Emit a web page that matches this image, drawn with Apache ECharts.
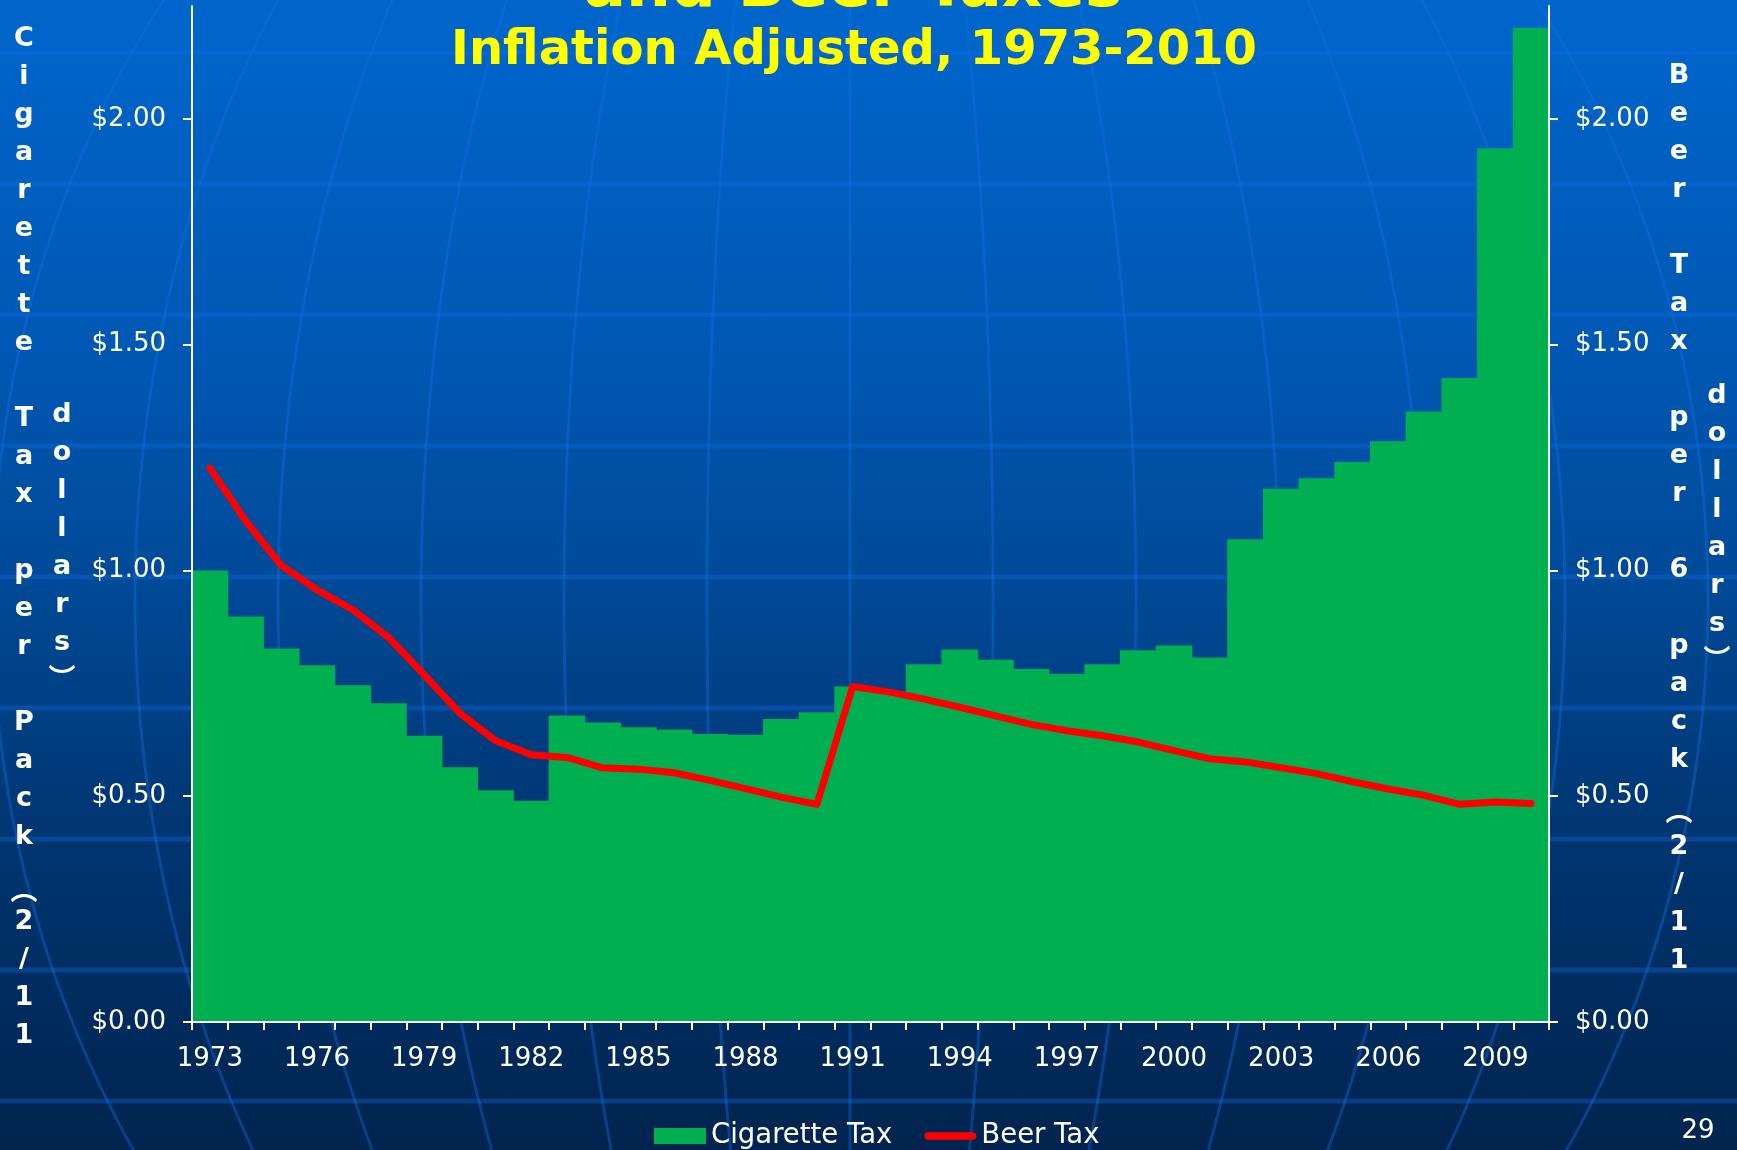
<!DOCTYPE html>
<html>
<head>
<meta charset="utf-8">
<script src="https://cdn.jsdelivr.net/npm/echarts@6/dist/echarts.min.js"></script>
<style>
html,body{margin:0;padding:0;width:1737px;height:1150px;overflow:hidden;
background:linear-gradient(to bottom,#0066cc 0%,#0058b4 30%,#004a98 50%,#003672 72%,#00244e 100%);}
#chart{width:1737px;height:1150px;}
</style>
</head>
<body>
<div id="chart"></div>
<script>
const years = ['1973','1974','1975','1976','1977','1978','1979','1980','1981','1982',
  '1983','1984','1985','1986','1987','1988','1989','1990','1991','1992',
  '1993','1994','1995','1996','1997','1998','1999','2000','2001','2002',
  '2003','2004','2005','2006','2007','2008','2009','2010'];
const cigaretteTax = [1.00,0.898,0.827,0.790,0.746,0.706,0.634,0.564,0.513,0.490,
  0.679,0.663,0.653,0.648,0.638,0.636,0.671,0.686,0.743,0.732,
  0.792,0.825,0.802,0.782,0.771,0.792,0.823,0.834,0.807,1.069,
  1.181,1.204,1.240,1.286,1.352,1.426,1.935,2.202];
const beerTax = [1.227,1.11,1.011,0.957,0.913,0.852,0.769,0.684,0.623,0.592,
  0.586,0.563,0.560,0.552,0.535,0.517,0.498,0.482,0.743,0.731,
  0.715,0.697,0.678,0.659,0.645,0.634,0.620,0.601,0.583,0.576,
  0.563,0.550,0.532,0.516,0.502,0.482,0.487,0.484];
const yTicks = [0, 0.5, 1.0, 1.5, 2.0];
const titleLine1 = 'and Beer Taxes';
const titleLine2 = 'Inflation Adjusted, 1973-2010';
// axis titles as stacked (vertical) text: Cigarette Tax per Pack (2/11 dollars)
const leftTitleA = 'Cigarette Tax per Pack';
const leftTitleParen = '︵';
const leftTitleDate = '2/11';
const leftTitleB = 'dollars︶';
const rightTitleA = 'Beer Tax per 6 pack';
const rightTitleParen = '︵';
const rightTitleDate = '2/11';
const rightTitleB = 'dollars︶';
const seriesNames = ['Cigarette Tax', 'Beer Tax'];

const FONT = '"DejaVu Sans", Verdana, sans-serif';
const stack = s => Array.from(s).join('\n');

// background decoration (slide template): latitude lines and globe meridians
const deco = [];
for (let k = 0; k < 9; k++) {
  const y = 53 + 131 * k;
  deco.push({type:'line', z:-100, silent:true,
    shape:{x1:0,y1:y,x2:1737,y2:y},
    style:{stroke:'rgba(20,110,235,0.32)', lineWidth:5}});
}
for (let i = -6; i <= 6; i++) {
  const d = 143 * i;
  const pts = [];
  for (let y = -60; y <= 1210; y += 20) {
    const t = (y - 600) / 1000;
    pts.push([850 + d * Math.sqrt(Math.max(0, 1 - t * t)), y]);
  }
  deco.push({type:'polyline', z:-100, silent:true,
    shape:{points:pts},
    style:{stroke:'rgba(20,110,225,0.38)', lineWidth:3, fill:null}});
}

const titleFont = 'bold 27px "DejaVu Sans", Verdana, "Noto Sans CJK SC", sans-serif';
const vText = (str, x, y, va) => ({type:'text', z:10, x:x, y:y, style:{text:stack(str), fill:'#ffffff',
    font:titleFont, lineHeight:38, textAlign:'center', textVerticalAlign:va || 'top'}});
const texts = [
  {type:'text', z:10, x:853, y:-10, style:{text:titleLine1, fill:'#ffff00',
    font:'bold 63px ' + FONT, textAlign:'center', textVerticalAlign:'middle'}},
  {type:'text', z:10, x:854, y:52, style:{text:titleLine2, fill:'#ffff00',
    font:'bold 48px ' + FONT, textAlign:'center', textVerticalAlign:'middle'}},
  vText(leftTitleA, 24, 20),
  vText(leftTitleParen, 24, 893, 'middle'),
  vText(leftTitleDate, 24, 903),
  vText(leftTitleB, 62, 396),
  vText(rightTitleA, 1679, 57),
  vText(rightTitleParen, 1679, 814, 'middle'),
  vText(rightTitleDate, 1679, 828),
  vText(rightTitleB, 1717, 377),
  {type:'text', z:10, x:1698, y:1131, style:{text:'29', fill:'#ffffff',
    font:'26px ' + FONT, textAlign:'center', textVerticalAlign:'middle'}}
];

const chart = echarts.init(document.getElementById('chart'), null, {renderer:'canvas'});
const yAxisCommon = {
  type:'value', min:0, max:2.25, interval:0.5, z:5,
  axisLine:{show:true, lineStyle:{color:'#ffffff', width:2}},
  axisTick:{show:true, length:9, lineStyle:{color:'#ffffff', width:2}, customValues:yTicks},
  axisLabel:{color:'#ffffff', fontSize:26, fontFamily:FONT, margin:26, customValues:yTicks,
    formatter: v => '$' + Number(v).toFixed(2)},
  splitLine:{show:false}, splitArea:{show:false}
};
chart.setOption({
  backgroundColor:'transparent',
  animation:false,
  graphic: deco.concat(texts),
  grid:{left:192, right:188, top:6, bottom:128, containLabel:false},
  legend:{
    left:649, top:1117, itemGap:32, itemWidth:52, itemHeight:16,
    textStyle:{color:'#ffffff', fontSize:27.5, fontFamily:FONT},
    data:[
      {name:seriesNames[0], icon:'rect'},
      {name:seriesNames[1], icon:'path://M4,0 L51,0 A4,4 0 0 1 51,8 L4,8 A4,4 0 0 1 4,0 Z'}
    ]
  },
  xAxis:{
    type:'category', data:years, boundaryGap:true, z:5,
    axisLine:{show:true, lineStyle:{color:'#ffffff', width:2}},
    axisTick:{show:true, interval:0, length:8, lineStyle:{color:'#ffffff', width:2}},
    axisLabel:{interval:2, color:'#ffffff', fontSize:26, fontFamily:FONT, margin:24},
    splitLine:{show:false}, splitArea:{show:false}
  },
  yAxis:[
    Object.assign({}, yAxisCommon, {position:'left'}),
    Object.assign({}, yAxisCommon, {position:'right'})
  ],
  series:[
    {name:seriesNames[0], type:'bar', data:cigaretteTax, barWidth:36.6, barGap:'0%',
      itemStyle:{color:'#00b050', borderWidth:0}, z:2},
    {name:seriesNames[1], type:'line', yAxisIndex:1, data:beerTax, symbol:'none', showSymbol:false,
      lineStyle:{color:'#ff0000', width:7, cap:'round', join:'round'}, itemStyle:{color:'#ff0000'}, z:3}
  ]
});
</script>
</body>
</html>
